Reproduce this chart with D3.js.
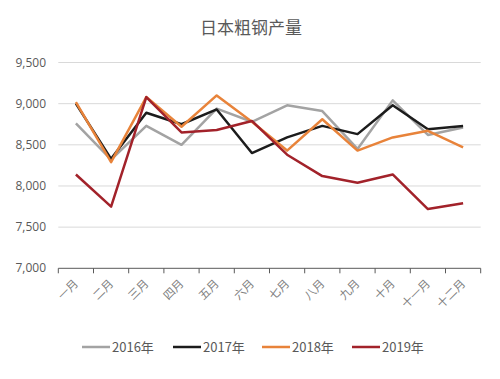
<!DOCTYPE html>
<html><head><meta charset="utf-8">
<script src="https://cdn.jsdelivr.net/npm/d3@7"></script>
<style>body{margin:0;background:#fff;}svg{display:block;font-family:"Noto Sans CJK SC","Noto Sans",sans-serif;}</style>
</head><body>
<svg id="c" width="500" height="379"></svg>
<script>
const months = ["一月","二月","三月","四月","五月","六月","七月","八月","九月","十月","十一月","十二月"];
const s2016 = [8760,8320,8730,8500,8940,8780,8980,8910,8450,9040,8620,8710];
const s2017 = [9000,8330,8890,8750,8930,8400,8590,8730,8630,8980,8690,8730];
const s2018 = [9020,8290,9080,8720,9100,8780,8430,8810,8430,8590,8670,8470];
const s2019 = [8140,7750,9080,8650,8680,8790,8380,8120,8040,8140,7720,7790];
const seriesNames = ["2016年","2017年","2018年","2019年"];
const colors = ["#a3a3a3","#1c1c1c","#e8833a","#a2222a"];
const yTicks = [7000,7500,8000,8500,9000,9500];
const title = "日本粗钢产量";

const svg = d3.select("#c");
const mLeft = 58.3, mRight = 480.7, mTop = 62.5, mBottom = 268.3;
const x = d3.scaleBand().domain(months).range([mLeft, mRight]).padding(0);
const y = d3.scaleLinear().domain([7000, 9500]).range([mBottom, mTop]);

svg.append("text").attr("x", 251).attr("y", 34).attr("text-anchor","middle")
  .attr("font-size", 17).attr("fill","#595959").text(title);

// gridlines
svg.append("g").selectAll("line").data(yTicks.slice(1)).join("line")
  .attr("x1", mLeft).attr("x2", mRight).attr("y1", d=>y(d)).attr("y2", d=>y(d))
  .attr("stroke","#d9d9d9").attr("stroke-width",1);

// y labels
const fmt = d3.format(",");
svg.append("g").selectAll("text").data(yTicks).join("text")
  .attr("x", 46).attr("y", d=>y(d)+4).attr("text-anchor","end")
  .attr("font-size", 12).attr("fill","#595959").attr("font-family","'Open Sans',sans-serif")
  .text(d=>fmt(d));

// x axis
const xAxis = svg.append("g").attr("transform",`translate(0,${mBottom})`);
xAxis.append("line").attr("x1",mLeft).attr("x2",mRight).attr("stroke","#595959").attr("stroke-width",1);
const tickPos = months.map(m=>x(m)).concat([mRight]);
xAxis.selectAll("line.t").data(tickPos).join("line").attr("class","t")
  .attr("x1",d=>d).attr("x2",d=>d).attr("y1",0).attr("y2",5).attr("stroke","#595959");
xAxis.selectAll("text").data(months).join("text")
  .attr("transform", d=>`translate(${x(d)+x.bandwidth()/2+3},${16}) rotate(-45)`)
  .attr("text-anchor","end").attr("font-size",11.5).attr("fill","#7f7f7f").text(d=>d);

// lines
const line = d3.line().x((d,i)=>x(months[i])+x.bandwidth()/2).y(d=>y(d));
[s2016,s2017,s2018,s2019].forEach((s,i)=>{
  svg.append("path").datum(s).attr("d", line).attr("fill","none")
    .attr("stroke", colors[i]).attr("stroke-width", 2.5).attr("stroke-linejoin","round");
});

// legend
const legX = [82, 173, 262, 352];
const lg = svg.append("g");
seriesNames.forEach((n,i)=>{
  lg.append("line").attr("x1",legX[i]).attr("x2",legX[i]+28).attr("y1",347).attr("y2",347)
    .attr("stroke",colors[i]).attr("stroke-width",2.5);
  lg.append("text").attr("x",legX[i]+30).attr("y",352).attr("font-size",13).attr("fill","#595959").text(n);
});
</script>
</body></html>
